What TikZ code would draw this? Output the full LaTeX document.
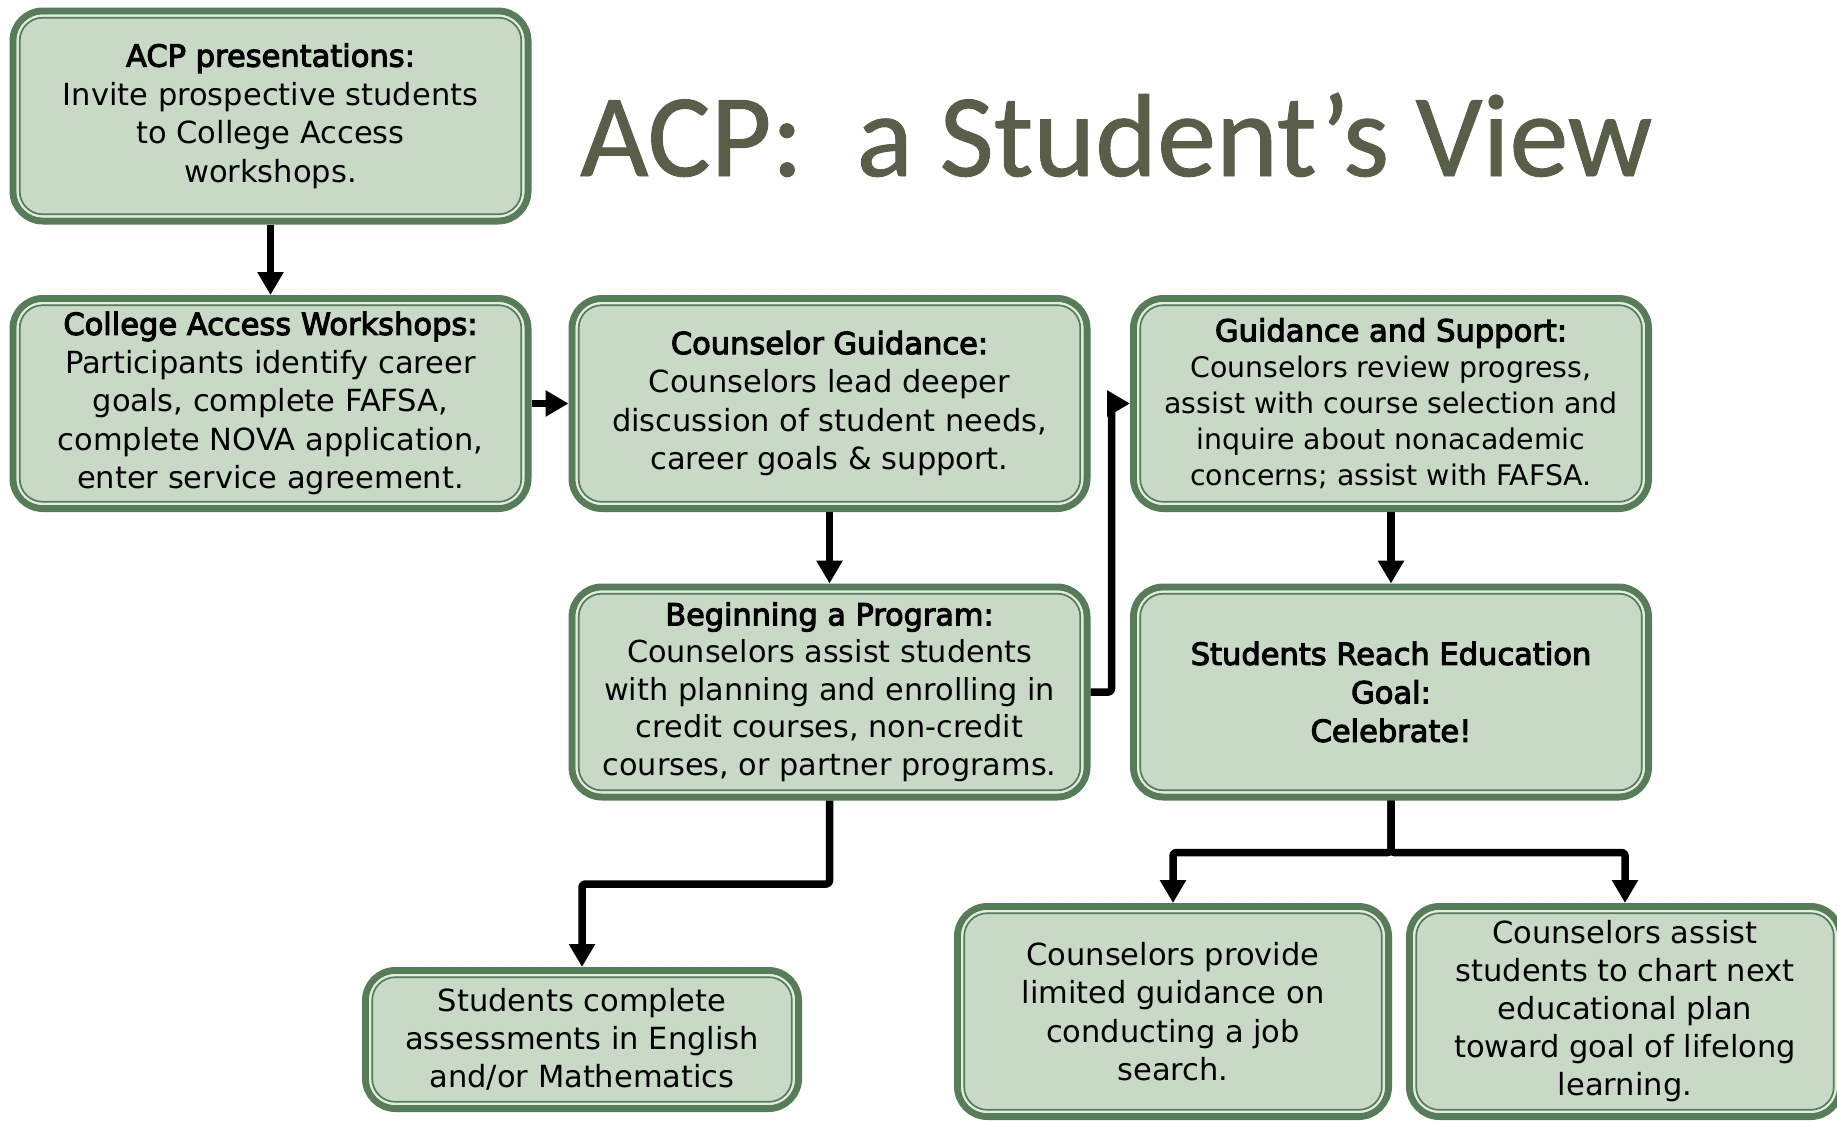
\documentclass[tikz,border=0pt]{standalone}
\usepackage{fontspec}
\setmainfont{DejaVu Sans}[BoldFont={DejaVu Sans}, BoldFeatures={FakeBold=3.5}]
\newfontfamily\titlefont{Carlito}[FakeBold=0.8]
\usetikzlibrary{arrows.meta}
\definecolor{dkgreen}{HTML}{567C58}
\definecolor{boxfill}{HTML}{C8DAC6}
\definecolor{paleline}{HTML}{E4ECE2}
\definecolor{titlecol}{HTML}{585E47}
\tikzset{
  flowbox/.style={rectangle, rounded corners=30pt, fill=boxfill, draw=dkgreen,
    line width=7pt, outer sep=3.5pt, align=center, inner sep=0pt,
    minimum width=515pt, minimum height=210pt,
    font=\fontsize{30.5}{38.5}\selectfont},
  smallbox/.style={flowbox, minimum width=433pt, minimum height=138pt},
  midbox/.style={flowbox, minimum width=431pt},
  link/.style={line width=7.5pt, line join=round, rounded corners=3pt,
    -{Triangle[length=23pt,width=25pt]}},
}
\newcommand\myinnerframe[1]{%
  \draw[paleline, line width=2.3pt, rounded corners=25pt]
    ([xshift=8.2pt,yshift=8.2pt]#1.south west) rectangle ([xshift=-8.2pt,yshift=-8.2pt]#1.north east);
  \draw[dkgreen, line width=1.7pt, rounded corners=23pt]
    ([xshift=10.2pt,yshift=10.2pt]#1.south west) rectangle ([xshift=-10.2pt,yshift=-10.2pt]#1.north east);
}
\begin{document}
\begin{tikzpicture}[x=1pt,y=-1pt]
\useasboundingbox (0,0) rectangle (1837,1120);
\fill[white] (0,0) rectangle (1837,1120);

\node[anchor=base west, inner sep=0pt, text=titlecol,
  font=\titlefont\fontsize{118}{118}\selectfont] (title) at (580,176) {ACP:\ \ a Student’s View};

\node[flowbox] (b1) at (270.5,116) {\textbf{ACP presentations:}\\Invite prospective students\\to College Access\\workshops.};
\node[flowbox] (b2) at (270.5,403.5) {\textbf{College Access Workshops:}\\Participants identify career\\goals, complete FAFSA,\\complete NOVA application,\\enter service agreement.};
\node[flowbox] (b3) at (829.5,403.5) {\textbf{Counselor Guidance:}\\Counselors lead deeper\\discussion of student needs,\\career goals \& support.};
\node[flowbox, font=\fontsize{28.4}{36}\selectfont] (b4) at (1391,403.5) {{\fontsize{30.5}{36}\selectfont\bfseries Guidance and Support:}\\Counselors review progress,\\assist with course selection and\\inquire about nonacademic\\concerns; assist with FAFSA.};
\node[flowbox, font=\fontsize{30.3}{37.5}\selectfont] (b5) at (829.5,692) {\textbf{Beginning a Program:}\\Counselors assist students\\with planning and enrolling in\\credit courses, non-credit\\courses, or partner programs.};
\node[flowbox, font=\fontsize{30.5}{38.5}\selectfont\bfseries] (b6) at (1391,692) {Students Reach Education\\Goal:\\Celebrate!};
\node[smallbox, font=\fontsize{30.5}{38}\selectfont] (b7) at (582,1039.5) {Students complete\\assessments in English\\and/or Mathematics};
\node[midbox] (b8) at (1173,1011.5) {Counselors provide\\limited guidance on\\conducting a job\\search.};
\node[midbox, font=\fontsize{30.5}{38}\selectfont] (b9) at (1625,1011.5) {Counselors assist\\students to chart next\\educational plan\\toward goal of lifelong\\learning.};

\foreach \n in {b1,b2,b3,b4,b5,b6,b7,b8,b9}{\myinnerframe{\n}}

\draw[link] (b1.south) -- (b2.north);
\draw[link] (b2.east) -- (b3.west);
\draw[link] (b3.south) -- (b5.north);
\draw[link] (b4.south) -- (b6.north);
\draw[link] (b5.east) -- ++(21pt,0pt) |- (b4.west);
\draw[link] (b5.south) -- ++(0pt,-83.5pt) -| (b7.north);
\draw[link] (b6.south) -- ++(0pt,-52pt) -| (b8.north);
\draw[link] (b6.south) -- ++(0pt,-52pt) -| (b9.north);
\end{tikzpicture}
\end{document}
